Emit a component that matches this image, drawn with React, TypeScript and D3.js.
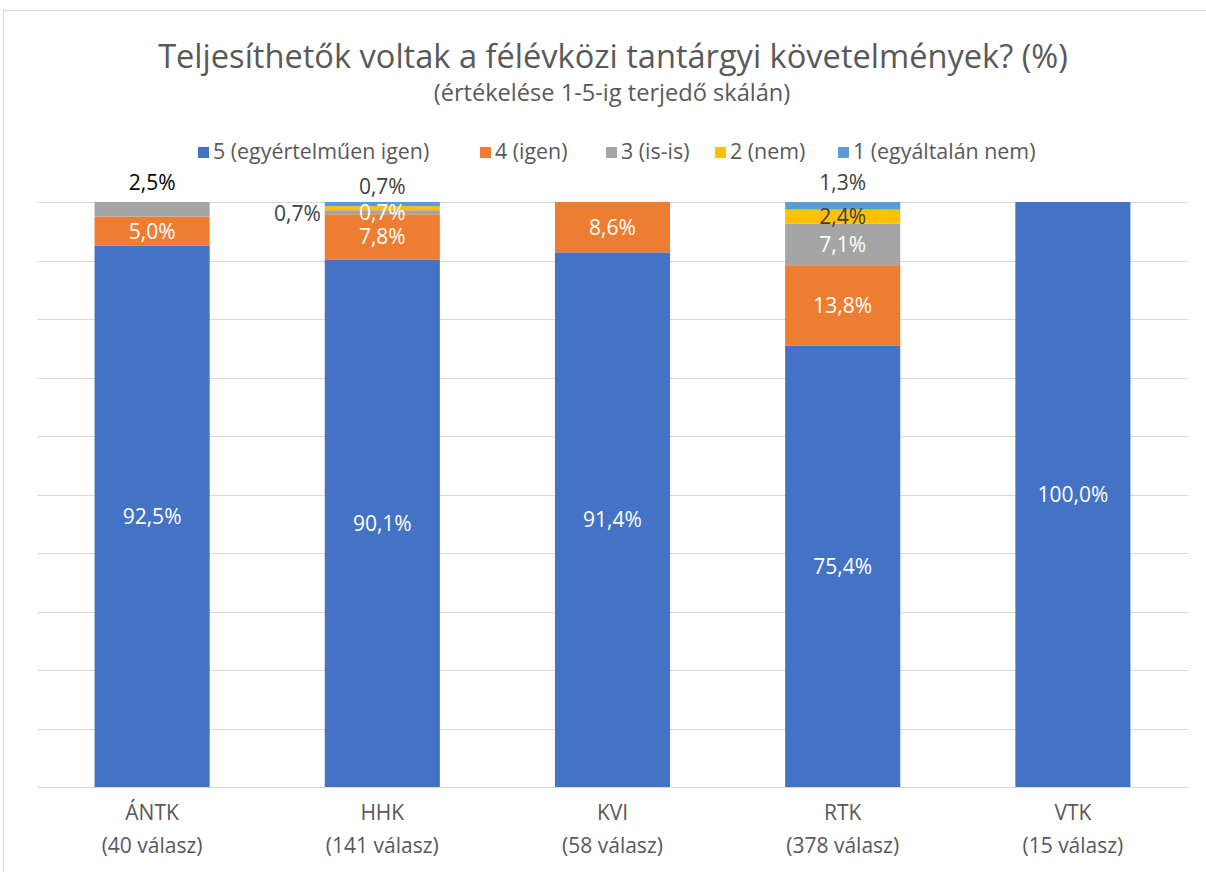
import React, { useEffect, useRef } from "react";
import * as d3 from "d3";

const categories = ["ÁNTK", "HHK", "KVI", "RTK", "VTK"];
const responses = ["(40 válasz)", "(141 válasz)", "(58 válasz)", "(378 válasz)", "(15 válasz)"];
const seriesNames = ["5 (egyértelműen igen)", "4 (igen)", "3 (is-is)", "2 (nem)", "1 (egyáltalán nem)"];
const s5 = [92.5, 90.1, 91.4, 75.4, 100.0];
const s4 = [5.0, 7.8, 8.6, 13.8, 0];
const s3 = [2.5, 0.7, 0, 7.1, 0];
const s2 = [0, 0.7, 0, 2.4, 0];
const s1 = [0, 0.7, 0, 1.3, 0];
const gridTicks = [0, 10, 20, 30, 40, 50, 60, 70, 80, 90, 100];

const colors = ["#4472C4", "#ED7D31", "#A5A5A5", "#FFC000", "#5B9BD5"];
const labelColors = ["#ffffff", "#ffffff", "#ffffff", "#404040", "#404040"];

// label placement overrides (layout): key = "cat|seriesIndex"
const labelPlacement: Record<string, { mode: "above" | "left"; color: string; dy?: number }> = {
  "ÁNTK|2": { mode: "above", color: "#000000", dy: 0 },
  "HHK|3": { mode: "left", color: "#404040" },
  "HHK|4": { mode: "above", color: "#404040", dy: 4 },
  "RTK|4": { mode: "above", color: "#404040", dy: 0 },
};

const FONT = "'Open Sans', sans-serif";

export default function App() {
  const ref = useRef<SVGSVGElement>(null);

  useEffect(() => {
    const svg = d3.select(ref.current);
    svg.selectAll("*").remove();
    const W = 1206, H = 872;

    svg.append("rect").attr("x", 3.5).attr("y", 10.5).attr("width", W + 10).attr("height", H + 10)
      .attr("fill", "#ffffff").attr("stroke", "#d9d9d9").attr("stroke-width", 1);

    const plot = { left: 37, right: 1188, top: 202, bottom: 787 };
    const x = d3.scaleBand().domain(categories).range([plot.left, plot.right]).paddingInner(0.5).paddingOuter(0.25);
    const y = d3.scaleLinear().domain([0, 100]).range([plot.bottom, plot.top]);

    // gridlines
    svg.append("g").selectAll("line").data(gridTicks).join("line")
      .attr("x1", plot.left).attr("x2", plot.right)
      .attr("y1", (d) => Math.round(y(d)) + 0.5).attr("y2", (d) => Math.round(y(d)) + 0.5)
      .attr("stroke", "#d9d9d9").attr("stroke-width", 1);

    const seriesArrays = [s5, s4, s3, s2, s1];
    const table = categories.map((c, i) => {
      const row: any = { cat: c };
      seriesArrays.forEach((arr, k) => (row["k" + k] = arr[i]));
      return row;
    });
    const keys = seriesArrays.map((_, k) => "k" + k);
    const stacked = d3.stack().keys(keys)(table);

    const gBars = svg.append("g");
    stacked.forEach((layer, k) => {
      gBars.append("g").selectAll("rect").data(layer).join("rect")
        .attr("x", (d: any) => x(d.data.cat)!)
        .attr("width", x.bandwidth())
        .attr("y", (d) => y(d[1]))
        .attr("height", (d) => Math.max(0, y(d[0]) - y(d[1])))
        .attr("fill", colors[k]);
    });

    // axis line
    svg.append("line").attr("x1", plot.left).attr("x2", plot.right)
      .attr("y1", plot.bottom + 0.5).attr("y2", plot.bottom + 0.5)
      .attr("stroke", "#d9d9d9").attr("stroke-width", 1);

    // data labels
    const gLabels = svg.append("g").attr("font-family", FONT).attr("font-size", 21);
    stacked.forEach((layer, k) => {
      layer.forEach((d: any) => {
        const v = d[1] - d[0];
        if (v <= 0) return;
        const cat = d.data.cat;
        const cx = x(cat)! + x.bandwidth() / 2;
        const txt = d3.format(".1f")(v).replace(".", ",") + "%";
        const ov = labelPlacement[cat + "|" + k];
        let lx = cx, ly = (y(d[0]) + y(d[1])) / 2, anchor = "middle", color = labelColors[k];
        if (ov) {
          color = ov.color;
          if (ov.mode === "above") {
            ly = y(100) - 19 + (ov.dy || 0);
          } else {
            lx = x(cat)! - 4;
            ly = y(d[1]) + 8;
            anchor = "end";
          }
        }
        gLabels.append("text").attr("x", lx).attr("y", ly).attr("dy", "0.35em")
          .attr("text-anchor", anchor).attr("fill", color).text(txt);
      });
    });

    // category labels
    const gCat = svg.append("g").attr("font-family", FONT).attr("font-size", 21).attr("fill", "#595959").attr("text-anchor", "middle");
    categories.forEach((c, i) => {
      const cx = x(c)! + x.bandwidth() / 2;
      gCat.append("text").attr("x", cx).attr("y", 813).attr("dy", "0.35em").text(c);
      gCat.append("text").attr("x", cx).attr("y", 846).attr("dy", "0.35em").text(responses[i]);
    });

    // title
    svg.append("text").attr("x", 613).attr("y", 57).attr("dy", "0.35em").attr("text-anchor", "middle")
      .attr("font-family", FONT).attr("font-size", 32.6).attr("fill", "#595959")
      .text("Teljesíthetők voltak a félévközi tantárgyi követelmények? (%)");
    svg.append("text").attr("x", 612).attr("y", 93).attr("dy", "0.35em").attr("text-anchor", "middle")
      .attr("font-family", FONT).attr("font-size", 23.6).attr("fill", "#595959")
      .text("(értékelése 1-5-ig terjedő skálán)");

    // legend
    const legendX = [198, 480, 606, 715, 838];
    const gLeg = svg.append("g").attr("font-family", FONT).attr("font-size", 21.4).attr("fill", "#595959");
    seriesNames.forEach((n, k) => {
      gLeg.append("rect").attr("x", legendX[k]).attr("y", 147).attr("width", 11).attr("height", 11).attr("fill", colors[k]);
      gLeg.append("text").attr("x", legendX[k] + 15).attr("y", 152).attr("dy", "0.35em").text(n);
    });
  }, []);

  return (
    <svg ref={ref} width={1206} height={872} style={{ position: "fixed", left: 0, top: 0, background: "#fff" }} />
  );
}
